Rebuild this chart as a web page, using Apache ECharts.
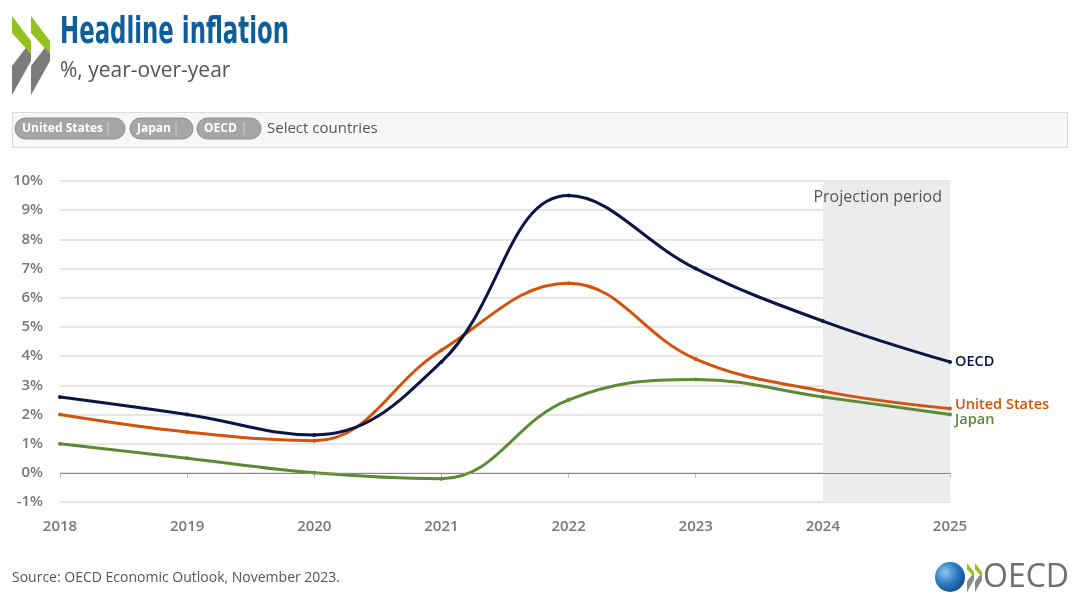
<!DOCTYPE html>
<html>
<head>
<meta charset="utf-8">
<script src="https://cdn.jsdelivr.net/npm/echarts@6/dist/echarts.min.js"></script>
<style>
html,body{margin:0;padding:0;background:#fff;}
#c{width:1080px;height:608px;}
</style>
</head>
<body>
<div id="c"></div>
<script>
// ---- data ----
const years = ['2018','2019','2020','2021','2022','2023','2024','2025'];
const oecd = [2.6, 2.0, 1.3, 3.8, 9.5, 7.0, 5.2, 3.8];
const unitedStates = [2.0, 1.4, 1.1, 4.2, 6.5, 3.9, 2.8, 2.2];
const japan = [1.0, 0.5, 0.0, -0.2, 2.5, 3.2, 2.6, 2.0];
const projectionStart = '2024';
const projectionEnd = '2025';
const countries = ['United States', 'Japan', 'OECD'];

const chart = echarts.init(document.getElementById('c'), null, {renderer:'canvas'});

function measure(text, font){
  const cv = document.createElement('canvas').getContext('2d');
  cv.font = font; return cv.measureText(text).width;
}
const titleFont = 'bold 38px "Liberation Sans Narrow", "DejaVu Sans Condensed", sans-serif';
const titleW = measure('Headline inflation', titleFont);
const titleScale = 229 / titleW;

function chevron(ox, oy, s, green, gray){
  const p = pts => pts.map(q => [ox + q[0]*s, oy + q[1]*s]);
  return [
    {type:'polygon', shape:{points:p([[0,50],[19,25],[19,45],[0,79]])}, style:{fill:gray}},
    {type:'polygon', shape:{points:p([[0,0],[19,25],[19,38],[0,17]])}, style:{fill:green}}
  ];
}

const pills = [];
const pillX = [15, 130, 197], pillW = [110, 63, 64];
countries.forEach((c,i)=>{
  pills.push({type:'rect', shape:{x:pillX[i], y:118, width:pillW[i], height:21, r:10.5},
    style:{fill:'#a6a6a6', stroke:'#8f8f8f', lineWidth:1}});
  pills.push({type:'text', style:{x:pillX[i]+7, y:128.5, text:c, fill:'#fff',
    font:'bold 12px "Open Sans", sans-serif', verticalAlign:'middle'}});
  pills.push({type:'line', shape:{x1:pillX[i]+pillW[i]-17, y1:122, x2:pillX[i]+pillW[i]-17, y2:135},
    style:{stroke:'#d0d0d0', lineWidth:1}});
});

const graphics = [
  ...chevron(12, 16, 1, '#95c11f', '#7b7b7b'),
  ...chevron(31, 16, 1, '#95c11f', '#7b7b7b'),
  {type:'text', x:60, y:33, scaleX:titleScale, originX:0, originY:0,
    style:{x:0, y:0, text:'Headline inflation', fill:'#0f5e9a', font:titleFont, verticalAlign:'middle'}},
  {type:'text', style:{x:60, y:71, text:'%, year-over-year', fill:'#555',
    font:'21px "Open Sans", sans-serif', verticalAlign:'middle'}},
  {type:'rect', shape:{x:12.5, y:112.5, width:1055, height:35}, style:{fill:'#f7f7f7', stroke:'#dcdcdc', lineWidth:1}},
  ...pills,
  {type:'text', style:{x:267, y:128.5, text:'Select countries', fill:'#555',
    font:'15px "Open Sans", sans-serif', verticalAlign:'middle'}},
  {type:'text', style:{x:12, y:578, text:'Source: OECD Economic Outlook, November 2023.', fill:'#555',
    font:'14px "Open Sans", sans-serif', verticalAlign:'middle'}},
  {type:'circle', shape:{cx:950, cy:577, r:15}, style:{fill:new echarts.graphic.RadialGradient(0.35,0.35,0.8,
    [{offset:0,color:'#8ec6f0'},{offset:0.5,color:'#2c79c0'},{offset:1,color:'#0d3d7a'}])}},
  ...chevron(967, 563, 0.37, '#95c11f', '#8a8a8a'),
  ...chevron(975, 563, 0.37, '#95c11f', '#8a8a8a'),
  {type:'text', style:{x:983, y:578, text:'OECD', fill:'#6f6f6f',
    font:'32px "Liberation Sans Narrow", "Open Sans", sans-serif', verticalAlign:'middle'}}
];

const lineSeries = (name, data, color, offY) => ({
  name, type:'line', data, smooth:0.4, symbol:'circle', symbolSize:4, showSymbol:true,
  lineStyle:{color, width:3}, itemStyle:{color}, z:3,
  endLabel:{show:true, formatter:'{a}', color, fontSize:14.5, fontWeight:600,
    fontFamily:'"Open Sans", sans-serif', distance:5, offset:[0, offY]},
  emphasis:{disabled:true}
});

const option = {
  animation:false,
  textStyle:{fontFamily:'"Open Sans", sans-serif'},
  grid:{left:60, right:130, top:181, bottom:106, containLabel:false},
  xAxis:{type:'category', data:years, boundaryGap:false,
    axisLine:{show:false}, axisTick:{show:true, length:5, lineStyle:{color:'#bbb'}},
    axisLabel:{color:'#777', fontSize:15, fontWeight:600, margin:17},
    splitLine:{show:false}},
  yAxis:{type:'value', min:-1, max:10, interval:1,
    axisLabel:{formatter:'{value}%', color:'#777', fontSize:15, fontWeight:600, margin:17},
    axisLine:{show:false}, axisTick:{show:false},
    splitLine:{lineStyle:{color:'#e6e6e6', width:2}}},
  graphic:graphics,
  series:[
    {type:'line', data:[], z:2, silent:true,
      markArea:{silent:true, itemStyle:{color:'#ececec'},
        label:{show:true, position:'insideTopRight', distance:8, color:'#555', fontSize:16,
          fontFamily:'"Open Sans", sans-serif'},
        data:[[{name:'Projection period', xAxis:projectionStart, yAxis:10}, {xAxis:projectionEnd, yAxis:-1}]]},
      markLine:{silent:true, symbol:'none', label:{show:false},
        lineStyle:{color:'#888', width:1, type:'solid'}, data:[{yAxis:0}]}},
    lineSeries('Japan', japan, '#5a8a32', 5),
    lineSeries('United States', unitedStates, '#d4520b', -4),
    lineSeries('OECD', oecd, '#0b1446', 0)
  ]
};
chart.setOption(option);
</script>
</body>
</html>
